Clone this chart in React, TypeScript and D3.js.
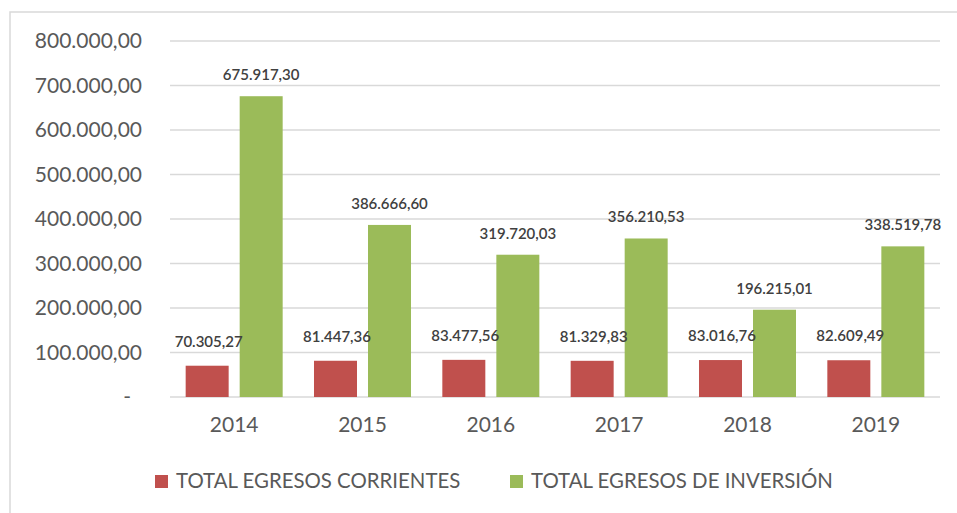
import React from "react";
import * as d3 from "d3";

const years = ["2014", "2015", "2016", "2017", "2018", "2019"];
const corrientes = [70305.27, 81447.36, 83477.56, 81329.83, 83016.76, 82609.49];
const inversion = [675917.3, 386666.6, 319720.03, 356210.53, 196215.01, 338519.78];
const seriesNames = ["TOTAL EGRESOS CORRIENTES", "TOTAL EGRESOS DE INVERSIÓN"];
const seriesColors = ["#C0504D", "#9BBB59"];
const yTicks = [0, 100000, 200000, 300000, 400000, 500000, 600000, 700000, 800000];

const W = 957;
const H = 513;
const plot = { left: 170, right: 940, top: 41, bottom: 397 };

const locale = d3.formatLocale({ decimal: ",", thousands: ".", grouping: [3], currency: ["", ""] });
const fmt = locale.format(",.2f");

const font = "Lato, 'Open Sans', sans-serif";

export default function App() {
  const x0 = d3.scaleBand<string>().domain(years).range([plot.left, plot.right]).paddingInner(0).paddingOuter(0);
  const x1 = d3
    .scaleBand<number>()
    .domain([0, 1])
    .range([0, x0.bandwidth()])
    .paddingInner(0.204)
    .paddingOuter(0.29);
  const y = d3.scaleLinear().domain([0, 800000]).range([plot.bottom, plot.top]);

  const series = [corrientes, inversion];

  return (
    <svg
      width={W}
      height={H}
      style={{ position: "absolute", left: 0, top: 0, background: "#fff" }}
      fontFamily={font}
    >
      <rect x={10} y={12} width={980} height={540} fill="#fff" stroke="#D9D9D9" strokeWidth={1.5} />

      {/* gridlines + y labels */}
      {yTicks.map((t) => (
        <g key={t}>
          <line x1={plot.left} x2={plot.right} y1={y(t)} y2={y(t)} stroke="#D9D9D9" strokeWidth={1.6} />
          <text
            x={t === 0 ? 131 : 142}
            y={y(t)}
            dy="0.35em"
            textAnchor="end"
            fontSize={21}
            fill="#595959"
          >
            {t === 0 ? "-" : fmt(t)}
          </text>
        </g>
      ))}

      {/* bars */}
      {series.map((vals, si) =>
        vals.map((v, i) => {
          const bx = (x0(years[i]) as number) + (x1(si) as number);
          return (
            <rect
              key={`${si}-${i}`}
              x={bx}
              y={y(v)}
              width={x1.bandwidth()}
              height={y(0) - y(v)}
              fill={seriesColors[si]}
            />
          );
        })
      )}

      {/* data labels */}
      {series.map((vals, si) =>
        vals.map((v, i) => {
          const cx = (x0(years[i]) as number) + (x1(si) as number) + x1.bandwidth() / 2;
          return (
            <text
              key={`l${si}-${i}`}
              x={cx + (si === 0 ? 1.5 : 0)}
              y={y(v) - (si === 0 ? 19 : 16)}
              textAnchor="middle"
              fontSize={15}
              fontWeight={600}
              fill="#404040"
            >
              {fmt(v)}
            </text>
          );
        })
      )}

      {/* x labels */}
      {years.map((yr) => (
        <text
          key={yr}
          x={(x0(yr) as number) + x0.bandwidth() / 2}
          y={432}
          textAnchor="middle"
          fontSize={21}
          fill="#595959"
        >
          {yr}
        </text>
      ))}

      {/* legend */}
      {seriesNames.map((name, si) => {
        const lx = si === 0 ? 155 : 510;
        return (
          <g key={name}>
            <rect x={lx} y={475} width={13} height={13} fill={seriesColors[si]} />
            <text x={lx + 21} y={488} fontSize={20.4} fill="#595959">
              {name}
            </text>
          </g>
        );
      })}
    </svg>
  );
}
